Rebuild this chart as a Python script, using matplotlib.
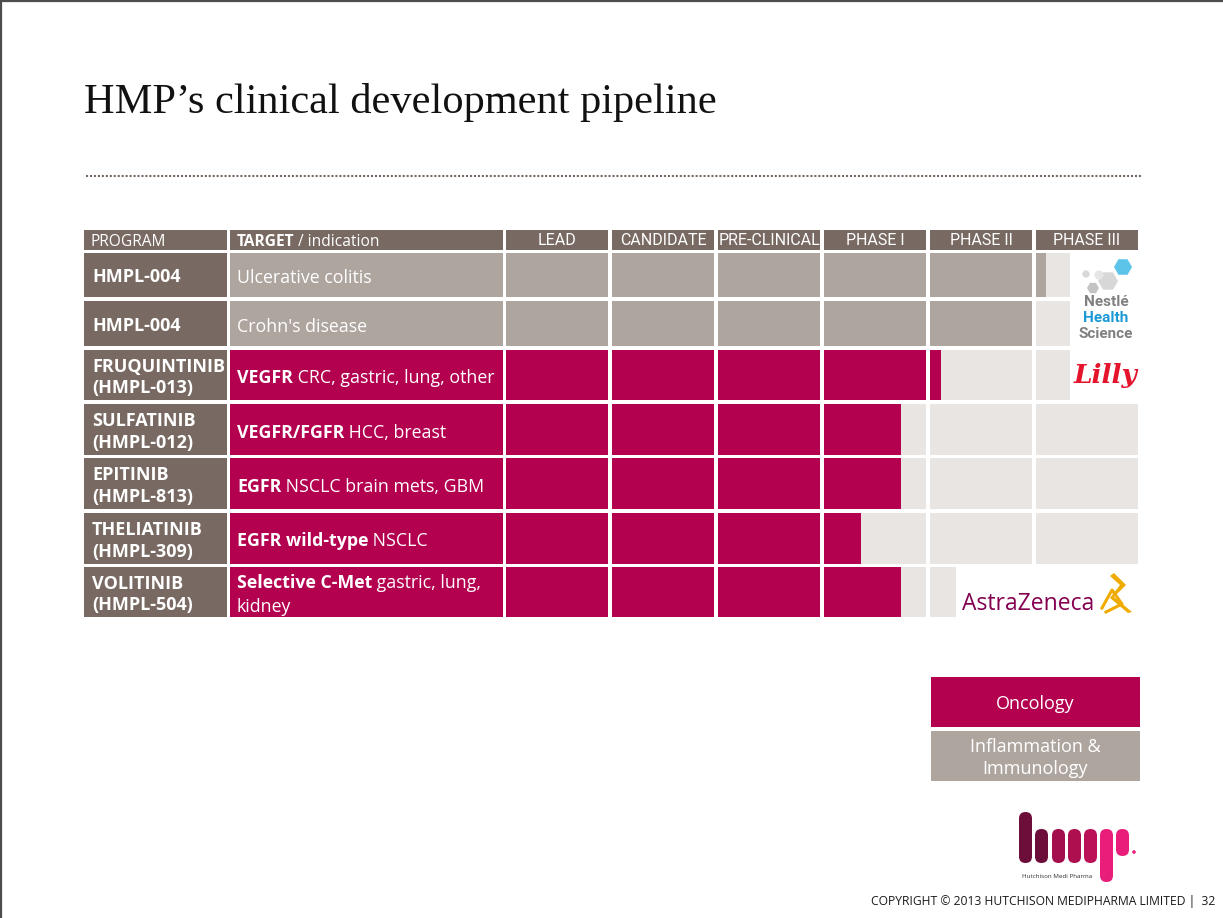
import matplotlib.pyplot as plt
import numpy as np
from matplotlib.patches import Rectangle, FancyBboxPatch, RegularPolygon, Polygon

# ---- data ----
phases = ["LEAD", "CANDIDATE", "PRE-CLINICAL", "PHASE I", "PHASE II", "PHASE III"]
programs = ["HMPL-004", "HMPL-004", "FRUQUINTINIB\n(HMPL-013)", "SULFATINIB\n(HMPL-012)",
            "EPITINIB\n(HMPL-813)", "THELIATINIB\n(HMPL-309)", "VOLITINIB\n(HMPL-504)"]
target_bold = ["", "", "VEGFR", "VEGFR/FGFR", "EGFR", "EGFR wild-type", "Selective C-Met"]
target_rest = ["Ulcerative colitis", "Crohn's disease", "CRC, gastric, lung, other",
               "HCC, breast", "NSCLC brain mets, GBM", "NSCLC", "gastric, lung,"]
target_line2 = ["", "", "", "", "", "", "kidney"]
area = ["ii", "ii", "onc", "onc", "onc", "onc", "onc"]
# progress = phase index + completed fraction of that phase column
progress = [5.10, 5.00, 4.11, 3.75, 3.75, 3.36, 3.75]
# how far the empty track is drawn (cut short where partner logos sit)
track_end = [5.33, 5.33, 5.33, 6.0, 6.0, 6.0, 4.25]

# ---- style ----
C_DARK = "#786a62"
C_GRAY = "#afa59f"
C_LIGHT = "#e8e5e2"
C_MAG = "#b3004f"
fill_col = {"ii": C_GRAY, "onc": C_MAG}
SANS = ["Open Sans", "DejaVu Sans"]
NARROW = ["Roboto", "Open Sans", "DejaVu Sans"]

W, H = 1223, 918
fig = plt.figure(figsize=(W / 100, H / 100), dpi=100, facecolor="white")
ax = fig.add_axes([0, 0, 1, 1])
ax.set_xlim(0, W)
ax.set_ylim(H, 0)
ax.axis("off")

# slide frame (top & left)
ax.plot([0, W], [1, 1], color="#4d4d4d", lw=1.6, solid_capstyle="butt")
ax.plot([1, 1], [0, H], color="#4d4d4d", lw=1.6, solid_capstyle="butt")

# title + dotted rule
ax.text(84, 103, "HMP\u2019s clinical development pipeline", family=["Liberation Serif"],
        fontsize=30.5, color="#111111", va="center", ha="left")
ax.plot([86, 1142], [176, 176], color=C_DARK, lw=1.5, linestyle=(0, (1, 0.9)),
        dash_capstyle="butt")

# table geometry (pixels)
head_top, head_h = 230, 20
row_top = [253, 301, 350, 404, 458, 513, 567]
row_h = [44, 45, 50, 51, 51, 51, 50]
prog_x0, prog_x1 = 84, 227
targ_x0, targ_x1 = 230, 503
grid_x0, grid_x1 = 506, 1142
cell_w = 102 / 106

# header
ax.add_patch(Rectangle((prog_x0, head_top), prog_x1 - prog_x0, head_h, color=C_DARK, lw=0))
ax.add_patch(Rectangle((targ_x0, head_top), targ_x1 - targ_x0, head_h, color=C_DARK, lw=0))
hc = head_top + head_h / 2
ax.text(91, hc + 1.5, "PROGRAM", family=SANS, fontsize=11.2, color="white", va="center")
tb = ax.text(237, hc + 1.5, "TARGET", family=SANS, fontsize=11.2, weight="bold",
             color="white", va="center")
ax.annotate(" / indication", xy=(1, 0), xycoords=tb, va="bottom", ha="left",
            family=SANS, fontsize=11.2, color="white")

# left columns
for r in range(len(programs)):
    y0, h = row_top[r], row_h[r]
    yc = y0 + h / 2
    ax.add_patch(Rectangle((prog_x0, y0), prog_x1 - prog_x0, h, color=C_DARK, lw=0))
    ax.add_patch(Rectangle((targ_x0, y0), targ_x1 - targ_x0, h, color=fill_col[area[r]], lw=0))
    ax.text(92, yc + 2.5, programs[r], family=SANS, fontsize=13, weight="bold", color="white",
            va="center", ha="left", linespacing=1.28)
    ty = yc + 3 if not target_line2[r] else yc - 9
    if target_bold[r]:
        b = ax.text(237, ty, target_bold[r], family=SANS, fontsize=12.8, weight="bold",
                    color="white", va="center", ha="left")
        ax.annotate(" " + target_rest[r], xy=(1, 0), xycoords=b, va="bottom", ha="left",
                    family=SANS, fontsize=12.8, color="white")
    else:
        ax.text(237, ty, target_rest[r], family=SANS, fontsize=12.8, color="white",
                va="center", ha="left")
    if target_line2[r]:
        ax.text(237, ty + 24, target_line2[r], family=SANS, fontsize=12.8, color="white",
                va="center", ha="left")

# phase grid axes: x in phase units, y in pixels
gx = fig.add_axes([grid_x0 / W, 1 - 617 / H, (grid_x1 - grid_x0) / W, (617 - head_top) / H])
gx.set_xlim(0, len(phases))
gx.set_ylim(617, head_top)
gx.axis("off")
gx.patch.set_visible(False)

for i, ph in enumerate(phases):
    gx.barh(head_top + head_h / 2, cell_w, left=i, height=head_h, color=C_DARK, lw=0)
    gx.text(i + cell_w / 2, head_top + head_h / 2 + 1, ph, family=NARROW, fontsize=11.5,
            color="white", ha="center", va="center")

for r in range(len(programs)):
    yc = row_top[r] + row_h[r] / 2
    for i in range(len(phases)):
        t = np.clip(track_end[r] - i, 0, 1) * cell_w
        f = np.clip(progress[r] - i, 0, 1) * cell_w
        if t > 0:
            gx.barh(yc, t, left=i, height=row_h[r], color=C_LIGHT, lw=0)
        if f > 0:
            gx.barh(yc, f, left=i, height=row_h[r], color=fill_col[area[r]], lw=0)

# legend boxes
ax.add_patch(Rectangle((931, 677), 209, 50, color=C_MAG, lw=0))
ax.text(1035.5, 704, "Oncology", family=SANS, fontsize=13, color="white", ha="center", va="center")
ax.add_patch(Rectangle((931, 731), 209, 50, color=C_GRAY, lw=0))
ax.text(1035.5, 758, "Inflammation &\nImmunology", family=SANS, fontsize=13, color="white",
        ha="center", va="center", linespacing=1.3)

# --- partner logos ---
# Nestle Health Science
for (x, y, rad, col) in [(1123, 267, 9, "#5bc4e8"), (1108, 281, 10, "#d7d7d7"),
                         (1093, 288, 6, "#c4c4c4"), (1086, 274, 4, "#d9d9d9"),
                         (1099, 275, 5, "#e6e6e6")]:
    ax.add_patch(RegularPolygon((x, y), 6, radius=rad, orientation=np.pi / 6, color=col, lw=0))
for txt, y, col in [("Nestl\u00e9", 302, "#808080"), ("Health", 318, "#1c9ad6"),
                    ("Science", 334, "#808080")]:
    ax.text(1106, y, txt, family=NARROW, fontsize=11, weight="bold", color=col,
            ha="center", va="center")
# Lilly
ax.text(1106, 376, "Lilly", family=["DejaVu Serif"], style="italic", weight="bold",
        fontsize=19, color="#e4142c", ha="center", va="center")
# AstraZeneca
ax.text(962, 604, "AstraZeneca", family=SANS, fontsize=16.5, color="#830051",
        ha="left", va="center")
ax.add_patch(Polygon([[1114, 573], [1126, 585], [1114, 597], [1132, 612], [1128, 613],
                      [1110, 598], [1120, 585], [1110, 576]], closed=True,
                     facecolor="#f0ab00", lw=0))
ax.plot([1102, 1112, 1122, 1106], [608, 590, 604, 612], color="#f0ab00", lw=2.2)

# HMP logo
bars = [(1019, 812, 863, "#6d0d3a"), (1035, 829, 863, "#6d0d3a"), (1052, 829, 863, "#a30f4c"),
        (1068, 829, 863, "#ad0f4f"), (1084, 829, 863, "#bb1156"), (1100, 829, 882, "#e91e7a"),
        (1116, 829, 856, "#e91e7a")]
for x, yt, yb, col in bars:
    ax.add_patch(FancyBboxPatch((x, yt), 13, yb - yt, boxstyle="round,pad=0,rounding_size=6.5",
                                color=col, lw=0))
ax.add_patch(plt.Circle((1134, 852), 1.8, color="#e91e7a", lw=0))
ax.text(1022, 876, "Hutchison Medi Pharma", family=SANS, fontsize=4.5, color="#333333",
        ha="left", va="center")

# footer
ax.text(1215, 901, "COPYRIGHT \u00a9 2013 HUTCHISON MEDIPHARMA LIMITED |  32", family=SANS,
        fontsize=8.7, color="#1a1a1a", ha="right", va="center")

fig.savefig("out.png", dpi=100, facecolor="white")
